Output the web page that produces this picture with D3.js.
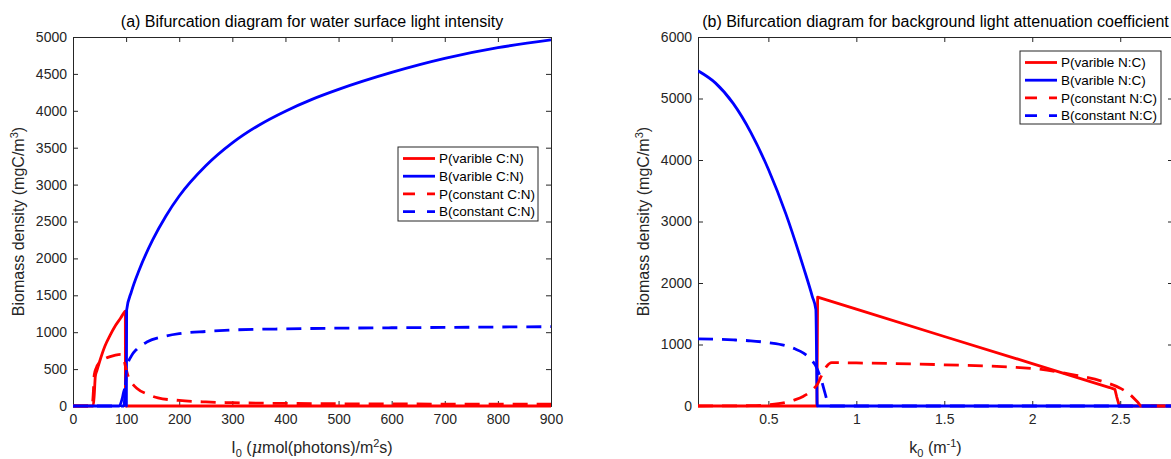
<!DOCTYPE html>
<html>
<head>
<meta charset="utf-8">
<script src="https://d3js.org/d3.v7.min.js"></script>
<style>
  body { margin: 0; background: #fff; }
  svg { display: block; font-family: "Liberation Sans", Arial, Helvetica, sans-serif; }
</style>
</head>
<body>
<div id="chart"></div>
<script>
// ---- data: panel (a), x = I0, y = biomass
var aPVar = [[0,0],[38,0],[40,150],[42,400],[45,480],[50,600],[60,810],[70,960],[80,1090],[90,1195],[97,1275],[98.5,1285],[98.8,0],[900,0]];
var aBVar = [[0,0],[87,0],[93,110],[97,230],[100.5,0],[101,1300],[110,1550],[125,1850],[150,2250],[175,2575],[200,2845],[250,3255],[300,3565],[350,3805],[400,3995],[450,4155],[500,4290],[600,4520],[700,4710],[800,4855],[900,4960]];
var aPConst = [[0,0],[36,0],[38,150],[40,420],[44,520],[50,590],[60,640],[70,670],[80,690],[90,700],[95,650],[100,500],[105,380],[110,320],[120,240],[140,160],[160,110],[200,75],[250,55],[300,45],[400,35],[500,30],[600,28],[700,26],[800,25],[900,24]];
var aBConst = [[0,0],[96,0],[98,200],[100,420],[103,560],[110,680],[120,770],[140,870],[170,940],[200,980],[250,1010],[300,1030],[400,1045],[500,1055],[600,1060],[700,1065],[800,1070],[900,1075]];

// ---- data: panel (b), x = k0, y = biomass
var bPVar = [[0.1,0],[0.776,0],[0.78,1770],[1.0,1575],[1.5,1130],[2.0,690],[2.44,300],[2.47,270],[2.48,150],[2.495,0],[2.8,0]];
var bBVar = [[0.1,5450],[0.2,5250],[0.3,4920],[0.4,4450],[0.5,3850],[0.6,3120],[0.7,2250],[0.75,1780],[0.77,1570],[0.778,0],[2.8,0]];
var bPConst = [[0.1,0],[0.4,5],[0.5,20],[0.6,60],[0.65,100],[0.7,160],[0.75,260],[0.78,360],[0.8,480],[0.83,640],[0.86,705],[1.0,700],[1.5,670],[2.0,610],[2.25,500],[2.4,400],[2.5,290],[2.55,200],[2.6,60],[2.62,0],[2.8,0]];
var bBConst = [[0.1,1090],[0.2,1085],[0.3,1075],[0.4,1060],[0.5,1030],[0.6,980],[0.65,930],[0.7,860],[0.74,760],[0.77,650],[0.8,430],[0.82,230],[0.84,40],[0.85,0],[2.8,0]];

var aXTicks = [0,100,200,300,400,500,600,700,800,900];
var aYTicks = [0,500,1000,1500,2000,2500,3000,3500,4000,4500,5000];
var bXTicks = [0.5,1,1.5,2,2.5];
var bYTicks = [0,1000,2000,3000,4000,5000,6000];

var aLegend = ["P(varible C:N)","B(varible C:N)","P(constant C:N)","B(constant C:N)"];
var bLegend = ["P(varible N:C)","B(varible N:C)","P(constant N:C)","B(constant N:C)"];

var width = 1171, height = 459;
var axisCol = "#262626";
var red = "#ff0000", blue = "#0000ff";

var svg = d3.select("#chart").append("svg")
  .attr("width", width)
  .attr("height", height);

function drawPanel(opt) {
  var x = d3.scaleLinear().domain(opt.xDomain).range([opt.left, opt.right]);
  var y = d3.scaleLinear().domain(opt.yDomain).range([opt.bottom, opt.top]);
  var g = svg.append("g");

  g.append("clipPath").attr("id", opt.id + "clip")
    .append("rect")
    .attr("x", opt.left).attr("y", opt.top - 2)
    .attr("width", opt.right - opt.left).attr("height", opt.bottom - opt.top + 4);

  // axes box, ticks point inward
  var tl = 5;
  var xb = d3.axisBottom(x).tickValues(opt.xTicks).tickSize(-tl).tickPadding(8).tickFormat(d3.format("~g"));
  var xt = d3.axisTop(x).tickValues(opt.xTicks).tickSize(-tl).tickFormat("");
  var yl = d3.axisLeft(y).tickValues(opt.yTicks).tickSize(-tl).tickPadding(6).tickFormat(d3.format("d"));
  var yr = d3.axisRight(y).tickValues(opt.yTicks).tickSize(-tl).tickFormat("");

  g.append("g").attr("transform", "translate(0," + opt.bottom + ")").call(xb);
  g.append("g").attr("transform", "translate(0," + opt.top + ")").call(xt);
  g.append("g").attr("transform", "translate(" + opt.left + ",0)").call(yl);
  g.append("g").attr("transform", "translate(" + opt.right + ",0)").call(yr);

  g.selectAll(".domain").attr("stroke", axisCol).attr("stroke-width", 1);
  g.selectAll(".tick line").attr("stroke", axisCol).attr("stroke-width", 1);
  g.selectAll(".tick text").attr("fill", axisCol).style("font-size", "14px")
    .style("font-family", "'Liberation Sans', Arial, sans-serif");

  // series
  var plot = g.append("g").attr("clip-path", "url(#" + opt.id + "clip)");
  opt.series.forEach(function(s){
    var line = d3.line()
      .x(function(d){ return x(d[0]); })
      .y(function(d){ return y(d[1]); })
      .curve(s.straight ? d3.curveLinear : d3.curveMonotoneX);
    plot.append("path")
      .attr("d", line(s.data))
      .attr("fill", "none")
      .attr("stroke", s.color)
      .attr("stroke-width", 2.8)
      .attr("stroke-linejoin", "round")
      .attr("stroke-dasharray", s.dash ? "15,9" : null);
  });

  // title
  g.append("text")
    .attr("x", (opt.left + opt.right) / 2).attr("y", opt.top - 10)
    .attr("text-anchor", "middle")
    .style("font-size", "16px").attr("fill", "#000")
    .text(opt.title);

  // y label
  var yt = g.append("text")
    .attr("transform", "translate(" + opt.ylabX + "," + ((opt.top + opt.bottom) / 2) + ") rotate(-90)")
    .attr("text-anchor", "middle")
    .style("font-size", "16px").attr("fill", axisCol);
  yt.append("tspan").text("Biomass density (mgC/m");
  yt.append("tspan").attr("dy", -6).style("font-size", "11px").text("3");
  yt.append("tspan").attr("dy", 6).text(")");

  // x label
  var xtx = g.append("text")
    .attr("x", (opt.left + opt.right) / 2).attr("y", opt.bottom + 47)
    .attr("text-anchor", "middle")
    .style("font-size", "16px").attr("fill", axisCol);
  opt.xlabel(xtx);

  // legend
  var L = opt.legend;
  var lg = g.append("g");
  lg.append("rect")
    .attr("x", L.x).attr("y", L.y).attr("width", L.w).attr("height", L.h)
    .attr("fill", "#fff").attr("stroke", axisCol).attr("stroke-width", 1);
  opt.series.forEach(function(s, i){
    var yy = L.y + 11.5 + i * 17.7;
    lg.append("line")
      .attr("x1", L.x + 5).attr("x2", L.x + 37)
      .attr("y1", yy).attr("y2", yy)
      .attr("stroke", s.color).attr("stroke-width", 2.8)
      .attr("stroke-dasharray", s.dash ? "12,12" : null);
    lg.append("text")
      .attr("x", L.x + 41).attr("y", yy).attr("dy", "0.35em")
      .style("font-size", "13.5px").attr("fill", "#000")
      .text(s.name);
  });
}

drawPanel({
  id: "a",
  left: 73, right: 551, top: 37, bottom: 406,
  xDomain: [0, 900], yDomain: [0, 5000],
  xTicks: aXTicks, yTicks: aYTicks,
  title: "(a) Bifurcation diagram for water surface light intensity",
  ylabX: 24,
  xlabel: function(t){
    t.append("tspan").text("I");
    t.append("tspan").attr("dy", 4).style("font-size", "11px").text("0");
    t.append("tspan").attr("dy", -4).text(" (");
    t.append("tspan").style("font-style", "italic").style("font-family", "'DejaVu Serif', serif").text("\u03bc");
    t.append("tspan").text("mol(photons)/m");
    t.append("tspan").attr("dy", -6).style("font-size", "11px").text("2");
    t.append("tspan").attr("dy", 6).text("s)");
  },
  legend: {x: 398, y: 147, w: 140, h: 74},
  series: [
    {data: aPVar, color: red, dash: false, name: aLegend[0]},
    {data: aBVar, color: blue, dash: false, name: aLegend[1]},
    {data: aPConst, color: red, dash: true, name: aLegend[2]},
    {data: aBConst, color: blue, dash: true, name: aLegend[3]}
  ]
});

drawPanel({
  id: "b",
  left: 698, right: 1173, top: 37, bottom: 406,
  xDomain: [0.1, 2.8], yDomain: [0, 6000],
  xTicks: bXTicks, yTicks: bYTicks,
  title: "(b) Bifurcation diagram for background light attenuation coefficient",
  ylabX: 649,
  xlabel: function(t){
    t.append("tspan").text("k");
    t.append("tspan").attr("dy", 4).style("font-size", "11px").text("0");
    t.append("tspan").attr("dy", -4).text(" (m");
    t.append("tspan").attr("dy", -6).style("font-size", "11px").text("-1");
    t.append("tspan").attr("dy", 6).text(")");
  },
  legend: {x: 1020, y: 51, w: 141, h: 73},
  series: [
    {data: bPVar, color: red, dash: false, straight: true, name: bLegend[0]},
    {data: bBVar, color: blue, dash: false, name: bLegend[1]},
    {data: bPConst, color: red, dash: true, name: bLegend[2]},
    {data: bBConst, color: blue, dash: true, name: bLegend[3]}
  ]
});
</script>
</body>
</html>
